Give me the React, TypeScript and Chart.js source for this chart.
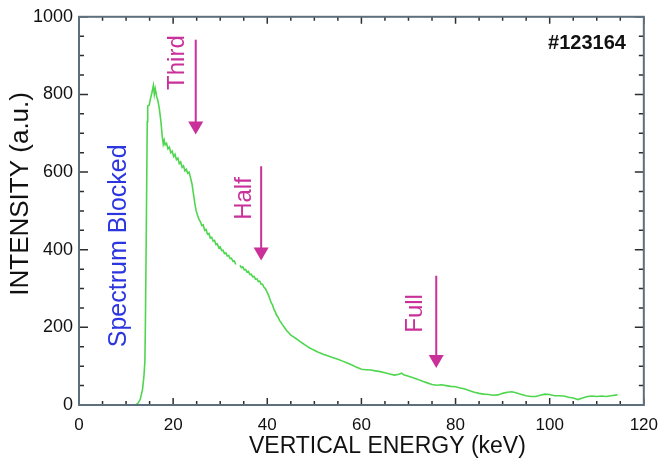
import { useEffect, useRef } from 'react';
import { Chart, registerables } from 'chart.js';

Chart.register(...registerables);

const FONT = '"Liberation Sans", Arial, Helvetica, sans-serif';

// Spectrum
const energy = [
  12.0, 12.5, 13.0, 13.5, 13.8, 14.0, 14.1, 14.3, 14.5, 14.6, 14.9, 15.2, 15.5, 15.8, 16.0, 16.2, 16.5, 16.8,
  17.1, 17.4, 17.7, 17.9, 18.1, 18.3, 18.6, 18.9, 19.2, 19.5, 19.8, 20.1, 20.4, 20.7, 21.0, 21.3, 21.6, 21.9,
  22.2, 22.5, 22.8, 23.1, 23.4, 23.7, 24.0, 24.3, 24.6, 24.9, 25.2, 25.5, 25.8, 26.1, 26.4, 26.7, 27.0, 27.3,
  27.6, 27.9, 28.2, 28.5, 28.8, 29.1, 29.4, 29.7, 30.0, 30.3, 30.6, 30.9, 31.2, 31.5, 31.8, 32.1, 32.4, 32.7,
  33.0, 33.3, 33.7, 34.2, 34.5, 34.8, 35.1, 35.4, 35.7, 36.0, 36.3, 36.6, 36.9, 37.2, 37.5, 37.8, 38.1, 38.4,
  38.7, 39.0, 39.3, 39.6, 39.9, 40.2, 40.5, 40.8, 41.1, 41.4, 41.7, 42.0, 42.3, 42.6, 42.9, 43.2, 43.5, 43.8,
  44.1, 44.4, 44.7, 45.0, 45.5, 46.0, 46.5, 47.0, 47.5, 48.0, 48.5, 49.0, 49.5, 50.0, 50.5, 51, 52, 53, 54,
  55, 56, 57, 58, 59, 60, 61, 62, 63, 64, 65, 66, 67, 68, 68.5, 69, 70, 71, 72, 73, 74, 75, 76, 77, 78, 79, 80,
  81, 82, 83, 84, 85, 86, 87, 88, 89, 90, 91, 92, 93, 94, 95, 96, 97, 98, 99, 100, 101, 102, 103, 104, 105,
  106, 107, 108, 109, 110, 111, 112, 113, 114.4,
];
const intensity: (number | null)[] = [
  0, 4, 14, 40, 75, 113, 200, 450, 730, 770, 772, 790, 805, 823, 800, 815, 795, 782,
  760, 731, 690, 672, 682, 670, 674, 660, 664, 650, 654, 640, 646, 632, 636, 622, 626, 612,
  616, 603, 607, 597, 600, 585, 570, 545, 520, 500, 488, 478, 472, 462, 464, 450, 452, 440,
  442, 430, 432, 422, 424, 413, 415, 405, 407, 398, 399, 390, 392, 384, 385, 377, 378, 370,
  371, 362, null, 360, 354, 356, 348, 349, 342, 344, 336, 337, 330, 331, 324, 325, 318, 319,
  311, 311, 303, 300, 292, 285, 275, 264, 258, 247, 240, 231, 226, 218, 213, 207, 202, 197,
  192, 188, 184, 180, 176, 172, 168, 163, 159, 155, 151, 147, 144, 141, 138, 135, 130, 126, 122,
  118, 113, 108, 103, 97, 92, 91, 90, 88, 86, 83, 80, 77, 79, 82, 78, 74, 70, 66, 61, 57, 53, 51, 52, 50, 48, 47,
  44, 41, 37, 33, 30, 28, 27, 25, 26, 30, 33, 34, 31, 27, 24, 22, 22, 25, 28, 27, 24, 24, 23, 20, 18,
  14, 18, 22, 23, 22, 23, 22, 24, 26,
];

// Axis ticks
const xTickStep = 20;
const xMinorStep = 5;
const yTickStep = 200;
const yMinorStep = 50;

// Annotations (data coordinates)
const arrowLabels = ['Third', 'Half', 'Full'];
const arrowX = [24.8, 38.7, 75.9];
const arrowTop = [941, 615, 333];
const arrowTip = [697, 372, 95];
const arrowLabelX = [22.3, 36.6, 72.9];
const arrowLabelY = [882, 532, 236];

const blockedLabel = 'Spectrum Blocked';
const blockedX = 9.9;
const blockedY = 410;

const shotLabel = '#123164';
const shotX = 116.2;
const shotY = 918;

const xTitle = 'VERTICAL ENERGY (keV)';
const yTitle = 'INTENSITY (a.u.)';

const MAGENTA = '#c9309a';

const decorPlugin = {
  id: 'decor',
  afterDraw(chart: any) {
    const { ctx, chartArea: a, scales } = chart;
    const xs = scales.x;
    const ys = scales.y;
    ctx.save();

    // ticks (inward, all four sides)
    ctx.strokeStyle = '#2a2f33';
    ctx.lineWidth = 1.5;
    ctx.beginPath();
    for (let v = 0; v <= 120; v += xMinorStep) {
      const px = xs.getPixelForValue(v);
      const len = v % xTickStep === 0 ? 7 : 4;
      ctx.moveTo(px, a.bottom);
      ctx.lineTo(px, a.bottom - len);
      ctx.moveTo(px, a.top);
      ctx.lineTo(px, a.top + len);
    }
    for (let v = 0; v <= 1000; v += yMinorStep) {
      const py = ys.getPixelForValue(v);
      const len = v % yTickStep === 0 ? 9 : 5;
      ctx.moveTo(a.left, py);
      ctx.lineTo(a.left + len, py);
      ctx.moveTo(a.right, py);
      ctx.lineTo(a.right - len, py);
    }
    ctx.stroke();

    // frame
    ctx.strokeStyle = '#5d6f7c';
    ctx.lineWidth = 2;
    ctx.strokeRect(a.left, a.top, a.right - a.left, a.bottom - a.top);

    // arrows
    ctx.strokeStyle = MAGENTA;
    ctx.fillStyle = MAGENTA;
    for (let i = 0; i < arrowX.length; i++) {
      const px = xs.getPixelForValue(arrowX[i]);
      const pt = ys.getPixelForValue(arrowTop[i]);
      const pb = ys.getPixelForValue(arrowTip[i]);
      ctx.lineWidth = 2;
      ctx.beginPath();
      ctx.moveTo(px, pt);
      ctx.lineTo(px, pb - 10);
      ctx.stroke();
      ctx.beginPath();
      ctx.moveTo(px - 7.5, pb - 13);
      ctx.lineTo(px + 7.5, pb - 13);
      ctx.lineTo(px, pb);
      ctx.closePath();
      ctx.fill();

      ctx.save();
      ctx.translate(xs.getPixelForValue(arrowLabelX[i]), ys.getPixelForValue(arrowLabelY[i]));
      ctx.rotate(-Math.PI / 2);
      ctx.font = `24px ${FONT}`;
      ctx.textAlign = 'center';
      ctx.textBaseline = 'alphabetic';
      ctx.fillText(arrowLabels[i], 0, 0);
      ctx.restore();
    }

    // Spectrum Blocked
    ctx.save();
    ctx.translate(xs.getPixelForValue(blockedX), ys.getPixelForValue(blockedY));
    ctx.rotate(-Math.PI / 2);
    ctx.fillStyle = '#2b35e0';
    ctx.font = `25px ${FONT}`;
    ctx.textAlign = 'center';
    ctx.textBaseline = 'alphabetic';
    ctx.fillText(blockedLabel, 0, 0);
    ctx.restore();

    // shot number
    ctx.fillStyle = '#111';
    ctx.font = `bold 20px ${FONT}`;
    ctx.textAlign = 'right';
    ctx.textBaseline = 'alphabetic';
    ctx.fillText(shotLabel, xs.getPixelForValue(shotX), ys.getPixelForValue(shotY));

    // axis titles
    ctx.fillStyle = '#111';
    ctx.font = `23px ${FONT}`;
    ctx.textAlign = 'center';
    ctx.fillText(xTitle, (a.left + a.right) / 2 + 26, chart.height - 13);

    ctx.save();
    ctx.translate(28, (a.top + a.bottom) / 2 - 17);
    ctx.rotate(-Math.PI / 2);
    ctx.font = `26px ${FONT}`;
    ctx.textAlign = 'center';
    ctx.fillText(yTitle, 0, 0);
    ctx.restore();

    ctx.restore();
  },
};

export default function App() {
  const ref = useRef<HTMLCanvasElement>(null);
  useEffect(() => {
    document.body.style.margin = '0';
    const chart = new Chart(ref.current!, {
      type: 'line',
      data: {
        datasets: [
          {
            data: energy.map((x, i) => ({ x, y: intensity[i] })) as any,
            borderColor: '#4fd64f',
            borderWidth: 1.6,
            pointRadius: 0,
            tension: 0,
            spanGaps: false,
            fill: false,
          },
        ],
      },
      options: {
        animation: false,
        responsive: false,
        layout: { padding: { top: 15, right: 18, left: 0, bottom: 0 } },
        scales: {
          x: {
            type: 'linear',
            min: 0,
            max: 120,
            afterFit: (s: any) => {
              s.height = 61;
            },
            grid: { display: false, drawTicks: false },
            border: { display: false },
            ticks: {
              stepSize: xTickStep,
              padding: 10,
              color: '#111',
              font: { size: 17, family: FONT },
              callback: (v: any) => String(v),
            },
          },
          y: {
            type: 'linear',
            min: 0,
            max: 1000,
            afterFit: (s: any) => {
              s.width = 79;
            },
            grid: { display: false, drawTicks: false },
            border: { display: false },
            ticks: {
              stepSize: yTickStep,
              padding: 6,
              color: '#111',
              font: { size: 18, family: FONT },
              callback: (v: any) => String(v),
            },
          },
        },
        plugins: { legend: { display: false }, tooltip: { enabled: false } },
      },
      plugins: [decorPlugin],
    });
    return () => chart.destroy();
  }, []);
  return (
    <div style={{ width: 668, height: 466 }}>
      <canvas ref={ref} width={668} height={466} />
    </div>
  );
}
